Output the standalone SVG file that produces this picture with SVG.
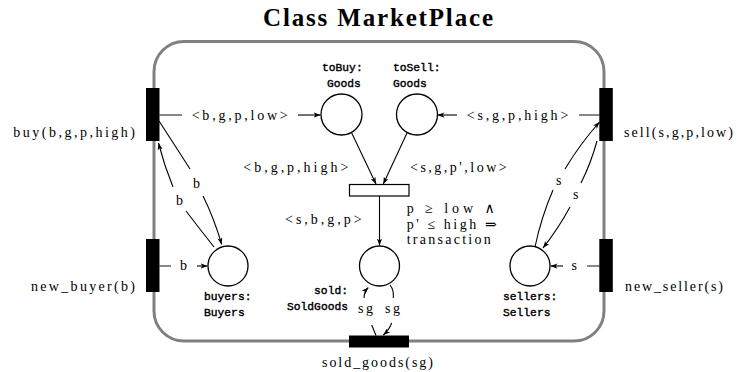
<svg xmlns="http://www.w3.org/2000/svg" width="747" height="372" viewBox="0 0 747 372">
<defs>
<marker id="ah" viewBox="0 0 8 6" refX="8" refY="3" markerWidth="7" markerHeight="5.25" markerUnits="userSpaceOnUse" orient="auto"><path d="M0,0 L8,3 L0,6 L2.2,3 z" fill="#000"/></marker>
<style>
.serif{font-family:"Liberation Serif","Times New Roman","DejaVu Serif",serif;font-size:14px;fill:#000}
.mono{font-family:"Liberation Mono","Courier New",monospace;font-size:11.3px;fill:#000;stroke:#000;stroke-width:0.4}
.title{font-family:"Liberation Serif","Times New Roman",serif;font-size:25px;font-weight:bold;fill:#000}
.place{fill:#fff;stroke:#000;stroke-width:1.3}
.trans{fill:#000}
.bar{fill:#fff;stroke:#000;stroke-width:1.2}
.arc{fill:none;stroke:#000;stroke-width:1.1}
.arr{fill:none;stroke:#000;stroke-width:1.1;marker-end:url(#ah)}
.gray{fill:none;stroke:#888;stroke-width:2}
.border{fill:none;stroke:#808080;stroke-width:3}
</style>
</defs>
<text class="title" x="378" y="26" text-anchor="middle" textLength="230">Class MarketPlace</text>
<rect id="class-border" class="border" x="154" y="41.5" width="450" height="299.5" rx="30"/>

<g id="connectors">
  <line class="gray" x1="159.5" y1="115" x2="182" y2="115"/>
  <text class="serif" x="191.7" y="119.5" textLength="96">&lt;b,g,p,low&gt;</text>
  <line class="arr" x1="298" y1="115" x2="320.5" y2="115"/>

  <line class="arr" x1="457" y1="115" x2="437.5" y2="115"/>
  <text class="serif" x="466.7" y="119.5" textLength="101.6">&lt;s,g,p,high&gt;</text>
  <line class="gray" x1="579" y1="115" x2="599.5" y2="115"/>

  <line class="gray" x1="159.5" y1="266" x2="171" y2="266"/>
  <text class="serif" x="180" y="270">b</text>
  <line class="arr" x1="197" y1="266" x2="207.5" y2="266"/>

  <line class="arr" x1="563" y1="266" x2="550.5" y2="266"/>
  <text class="serif" x="571.5" y="270">s</text>
  <line class="gray" x1="587" y1="266" x2="599.5" y2="266"/>

  <line class="arr" x1="351.7" y1="133" x2="376" y2="184"/>
  <line class="arr" x1="407" y1="133" x2="383.3" y2="184"/>
  <text class="serif" x="243.3" y="172" textLength="105">&lt;b,g,p,high&gt;</text>
  <text class="serif" x="410" y="172" textLength="96.7">&lt;s,g,p',low&gt;</text>

  <line class="arr" x1="379.5" y1="196" x2="379.5" y2="245.5"/>
  <text class="serif" x="285" y="224" textLength="76.7">&lt;s,b,g,p&gt;</text>

  <path class="arc" d="M159,121 Q174,144 190,169"/>
  <path class="arr" d="M203,196 Q214,218 221.7,244.5"/>
  <text class="serif" x="193" y="188">b</text>
  <path class="arc" d="M214,247 Q199,228 186,211"/>
  <path class="arr" d="M173,187 Q164,165 158.5,143"/>
  <text class="serif" x="176" y="205">b</text>

  <path class="arc" d="M535,247 Q541,218 553,190"/>
  <path class="arr" d="M565,169 Q580,144 599.5,122"/>
  <text class="serif" x="556" y="185">s</text>
  <path class="arc" d="M597,141 Q591,163 581,183"/>
  <path class="arr" d="M570,207 Q558,229 543,248"/>
  <text class="serif" x="573" y="199">s</text>

  <path class="arc" d="M376,335.5 L371.7,325"/>
  <path class="arr" d="M364,298 Q364,292 368.3,287.5"/>
  <text class="serif" x="358" y="313" textLength="15">sg</text>
  <path class="arc" d="M390,285 Q394,290 393.3,298"/>
  <path class="arr" d="M391.7,323 Q389,330 383.3,335"/>
  <text class="serif" x="385" y="313" textLength="15">sg</text>
</g>

<g id="buy">
  <rect class="trans" x="146" y="88" width="13.5" height="53"/>
  <text class="serif" x="135" y="137" text-anchor="end" textLength="121.7">buy(b,g,p,high)</text>
</g>
<g id="sell">
  <rect class="trans" x="599.3" y="88" width="13.5" height="53"/>
  <text class="serif" x="624" y="137" textLength="109">sell(s,g,p,low)</text>
</g>
<g id="new_buyer">
  <rect class="trans" x="146" y="239" width="13.5" height="53"/>
  <text class="serif" x="135" y="291" text-anchor="end" textLength="104">new_buyer(b)</text>
</g>
<g id="new_seller">
  <rect class="trans" x="599.3" y="239" width="13.5" height="53"/>
  <text class="serif" x="625" y="291" textLength="98">new_seller(s)</text>
</g>
<g id="sold_goods">
  <rect class="trans" x="349" y="335.5" width="60" height="12"/>
  <text class="serif" x="377.5" y="367" text-anchor="middle" textLength="111">sold_goods(sg)</text>
</g>
<g id="transaction">
  <rect class="bar" x="349.5" y="184.5" width="59.5" height="11.5"/>
  <text class="serif" x="406.7" y="213" textLength="88">p ≥ low ∧</text>
  <text class="serif" x="406.7" y="228.5" textLength="90">p' ≤ high ⇒</text>
  <text class="serif" x="406.7" y="244" textLength="84">transaction</text>
</g>
<g id="toBuy">
  <circle class="place" cx="341.5" cy="114.5" r="20.5"/>
  <text class="mono" x="322" y="70.5">toBuy:</text>
  <text class="mono" x="327" y="86.5">Goods</text>
</g>
<g id="toSell">
  <circle class="place" cx="417" cy="114.5" r="20.5"/>
  <text class="mono" x="393" y="70.5">toSell:</text>
  <text class="mono" x="393" y="86.5">Goods</text>
</g>
<g id="buyers">
  <circle class="place" cx="228" cy="266" r="20"/>
  <text class="mono" x="204" y="300">buyers:</text>
  <text class="mono" x="204" y="316">Buyers</text>
</g>
<g id="sold">
  <circle class="place" cx="379.5" cy="266" r="20"/>
  <text class="mono" x="348" y="294" text-anchor="end">sold:</text>
  <text class="mono" x="348" y="310" text-anchor="end">SoldGoods</text>
</g>
<g id="sellers">
  <circle class="place" cx="530" cy="266" r="20"/>
  <text class="mono" x="503" y="300">sellers:</text>
  <text class="mono" x="503" y="316">Sellers</text>
</g>
</svg>
